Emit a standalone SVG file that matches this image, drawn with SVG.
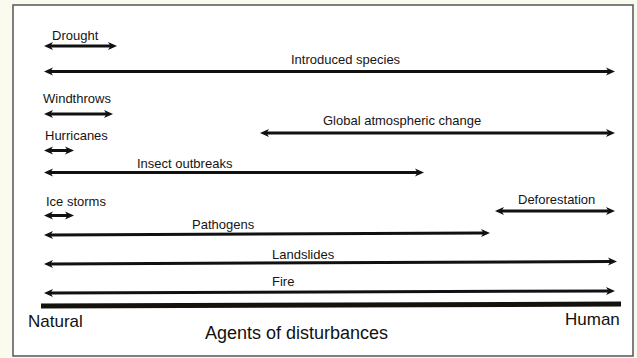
<svg xmlns="http://www.w3.org/2000/svg" width="637" height="358" viewBox="0 0 637 358">
<style>
.lbl{font-family:"Liberation Sans",Arial,sans-serif;font-size:13px;fill:#151515}
.big{font-family:"Liberation Sans",Arial,sans-serif;font-size:17px;fill:#111}
.arr{stroke:#111;stroke-width:3;fill:none;marker-start:url(#ah);marker-end:url(#ah)}
</style>
<defs>
<marker id="ah" markerUnits="userSpaceOnUse" markerWidth="10" markerHeight="10" viewBox="0 0 10 10" refX="3" refY="5" orient="auto-start-reverse">
<path d="M0,1 L9,5 L0,9 L2.5,5 Z" fill="#111"/>
</marker>
</defs>
<rect x="0" y="0" width="637" height="358" fill="#fbfaee"/>
<rect id="frame" x="13" y="5" width="620" height="351" fill="#ffffff" stroke="#555" stroke-width="1.5"/>
<g id="connectors">
<line id="c-drought" class="arr" x1="50" y1="46" x2="111" y2="46"/>
<line id="c-introduced" class="arr" x1="50" y1="71.5" x2="609" y2="71.5"/>
<line id="c-windthrows" class="arr" x1="50" y1="114" x2="107" y2="114"/>
<line id="c-global" class="arr" x1="266" y1="133" x2="609" y2="133"/>
<line id="c-hurricanes" class="arr" x1="50" y1="150.5" x2="68" y2="150.5"/>
<line id="c-insect" class="arr" x1="50" y1="172.5" x2="418" y2="172.5"/>
<line id="c-deforestation" class="arr" x1="501" y1="211" x2="609" y2="211"/>
<line id="c-ice" class="arr" x1="50" y1="215.5" x2="68" y2="215.5"/>
<line id="c-pathogens" class="arr" x1="50" y1="235" x2="484" y2="233"/>
<line id="c-landslides" class="arr" x1="50" y1="264" x2="611" y2="261.5"/>
<line id="c-fire" class="arr" x1="50" y1="293" x2="609" y2="291"/>
<line id="axis" x1="41" y1="306" x2="621" y2="304" stroke="#15110c" stroke-width="5"/>
</g>
<g id="n-drought"><text class="lbl" x="52" y="40">Drought</text></g>
<g id="n-introduced"><text class="lbl" x="291" y="63.5">Introduced species</text></g>
<g id="n-windthrows"><text class="lbl" x="43" y="102.5">Windthrows</text></g>
<g id="n-global"><text class="lbl" x="323" y="124.5">Global atmospheric change</text></g>
<g id="n-hurricanes"><text class="lbl" x="45" y="140">Hurricanes</text></g>
<g id="n-insect"><text class="lbl" x="137" y="168">Insect outbreaks</text></g>
<g id="n-ice"><text class="lbl" x="46" y="206">Ice storms</text></g>
<g id="n-deforestation"><text class="lbl" x="518" y="204">Deforestation</text></g>
<g id="n-pathogens"><text class="lbl" x="192" y="228.5">Pathogens</text></g>
<g id="n-landslides"><text class="lbl" x="272" y="258.5">Landslides</text></g>
<g id="n-fire"><text class="lbl" x="272" y="285.5">Fire</text></g>
<g id="n-natural"><text class="big" x="28" y="327">Natural</text></g>
<g id="n-agents"><text class="big" x="205" y="338.5" style="font-size:18px">Agents of disturbances</text></g>
<g id="n-human"><text class="big" x="565" y="325">Human</text></g>
</svg>
